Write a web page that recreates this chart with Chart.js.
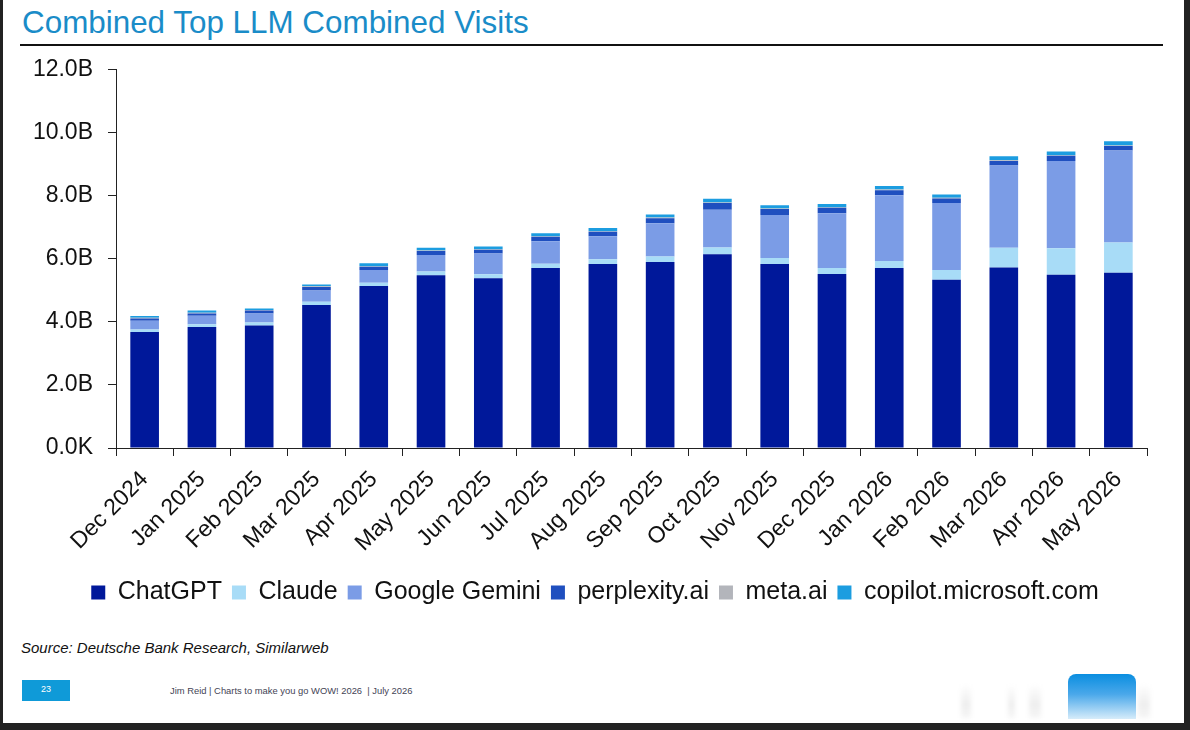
<!DOCTYPE html>
<html>
<head>
<meta charset="utf-8">
<script src="https://cdn.jsdelivr.net/npm/chart.js@4.4.1/dist/chart.umd.min.js"></script>
<style>
  html, body { margin: 0; padding: 0; background: #222; }
  body { width: 1190px; height: 730px; position: relative; overflow: hidden; font-family: "Liberation Sans", Arial, sans-serif; }
  #page { position: absolute; left: 3px; top: 0; width: 1181px; height: 723px; background: #fff; overflow: hidden; }
  #title { position: absolute; left: 19px; top: 5px; font-size: 31.4px; color: #1a8cc8; white-space: nowrap; }
  #rule { position: absolute; left: 17px; top: 44px; width: 1143px; height: 2px; background: #111; }
  #wrap { position: absolute; left: -3px; top: 41px; width: 1190px; height: 574px; }
  #source { position: absolute; left: 18px; top: 639px; font-size: 15px; font-style: italic; color: #111; }
  #pagenum { position: absolute; left: 19px; top: 680px; width: 48px; height: 21px; background: #0f9ad8; color: #fff; font-size: 9px; text-align: center; line-height: 19px; }
  #footer { position: absolute; left: 167px; top: 685px; font-size: 9.4px; color: #445; }
  #logo { position: absolute; left: 1065px; top: 674px; width: 68px; height: 45px; border-radius: 8px 8px 0 0;
          background: linear-gradient(to bottom, #0a8ee0 0%, #4aa8ea 45%, #d6ecfa 100%); }
  .ghost { position: absolute; top: 684px; height: 34px; background: linear-gradient(to bottom, #fff, #eeeeee 60%, #f6f6f6); filter: blur(2px); }
</style>
</head>
<body>
<div id="page">
  <div id="title">Combined Top LLM Combined Visits</div>
  <div id="rule"></div>
  <div id="wrap"><canvas id="visitsChart"></canvas></div>
  <div id="source">Source: Deutsche Bank Research, Similarweb</div>
  <div id="pagenum">23</div>
  <div id="footer">Jim Reid | Charts to make you go WOW! 2026 &nbsp;| July 2026</div>
  <div class="ghost" style="left:958px; width:10px"></div>
  <div class="ghost" style="left:1005px; width:7px"></div>
  <div class="ghost" style="left:1026px; width:12px"></div>
  <div class="ghost" style="left:1135px; width:12px"></div>
  <div id="logo"></div>
</div>
<script>
// Months on the x axis
const months = ['Dec 2024', 'Jan 2025', 'Feb 2025', 'Mar 2025', 'Apr 2025', 'May 2025',
    'Jun 2025', 'Jul 2025', 'Aug 2025', 'Sep 2025', 'Oct 2025', 'Nov 2025',
    'Dec 2025', 'Jan 2026', 'Feb 2026', 'Mar 2026', 'Apr 2026', 'May 2026'];

// Monthly visits, billions
const chatgpt = [3.68, 3.84, 3.89, 4.54, 5.14, 5.48, 5.39, 5.71, 5.84, 5.90, 6.15, 5.84, 5.52, 5.71, 5.34, 5.73, 5.50, 5.56];
const claude = [0.08, 0.09, 0.09, 0.10, 0.10, 0.12, 0.12, 0.14, 0.15, 0.18, 0.21, 0.19, 0.19, 0.22, 0.31, 0.62, 0.84, 0.96];
const gemini = [0.28, 0.27, 0.29, 0.36, 0.41, 0.52, 0.66, 0.71, 0.73, 1.05, 1.20, 1.36, 1.74, 2.09, 2.12, 2.61, 2.77, 2.92];
const perplexity = [0.07, 0.07, 0.09, 0.11, 0.10, 0.13, 0.12, 0.14, 0.14, 0.16, 0.21, 0.19, 0.17, 0.16, 0.15, 0.15, 0.16, 0.14];
const metaAi = [0.02, 0.02, 0.02, 0.02, 0.02, 0.02, 0.02, 0.02, 0.02, 0.02, 0.02, 0.02, 0.02, 0.02, 0.02, 0.02, 0.02, 0.02];
const copilot = [0.06, 0.07, 0.05, 0.06, 0.09, 0.08, 0.08, 0.09, 0.10, 0.10, 0.12, 0.10, 0.10, 0.11, 0.10, 0.13, 0.12, 0.13];

// Y axis ticks, billions
const yTicks = [0, 2, 4, 6, 8, 10, 12];

const colors = {
    chatgpt: '#00189a',
    claude: '#a8dcf7',
    gemini: '#7b9ce6',
    perplexity: '#1f4fbf',
    meta: '#b3b5bb',
    copilot: '#1c9de0'
};

function makeSet(label, data, color) {
    return {
        label: label,
        data: data.map(v => v * 1e9),
        backgroundColor: color,
        borderWidth: 0,
        barPercentage: 0.5,
        categoryPercentage: 1.0
    };
}

const ctx = document.getElementById('visitsChart');
new Chart(ctx, {
    type: 'bar',
    data: {
        labels: months,
        datasets: [
            makeSet('ChatGPT', chatgpt, colors.chatgpt),
            makeSet('Claude', claude, colors.claude),
            makeSet('Google Gemini', gemini, colors.gemini),
            makeSet('perplexity.ai', perplexity, colors.perplexity),
            makeSet('meta.ai', metaAi, colors.meta),
            makeSet('copilot.microsoft.com', copilot, colors.copilot)
        ]
    },
    options: {
        responsive: true,
        maintainAspectRatio: false,
        animation: false,
        layout: { padding: { left: 0, right: 0, top: 11, bottom: 0 } },
        plugins: {
            tooltip: { enabled: false },
            legend: {
                position: 'bottom',
                labels: {
                    boxWidth: 14,
                    boxHeight: 14,
                    padding: 10,
                    color: '#111',
                    font: { family: 'Liberation Sans', size: 25 }
                }
            }
        },
        scales: {
            x: {
                stacked: true,
                afterFit: function(scale) { scale.height = 122; },
                grid: { drawOnChartArea: false, drawTicks: true, tickLength: 8, color: '#222', offset: true },
                border: { display: true, color: '#222', width: 1 },
                ticks: {
                    minRotation: 45,
                    maxRotation: 45,
                    color: '#111',
                    padding: 10,
                    font: { family: 'Liberation Sans', size: 23 }
                }
            },
            y: {
                stacked: true,
                min: 0,
                max: yTicks[yTicks.length - 1] * 1e9,
                afterFit: function(scale) { scale.width = 116; },
                afterBuildTicks: function(scale) {
                    scale.ticks = yTicks.map(v => ({ value: v * 1e9 }));
                },
                grid: { drawOnChartArea: false, drawTicks: true, tickLength: 8, color: '#222' },
                border: { display: true, color: '#222', width: 1 },
                ticks: {
                    color: '#111',
                    padding: 15,
                    font: { family: 'Liberation Sans', size: 23 },
                    callback: function(value) {
                        if (value === 0) return '0.0K';
                        return (value / 1e9).toFixed(1) + 'B';
                    }
                }
            },
            // empty right margin so the legend centres on the page
            yRight: {
                position: 'right',
                afterFit: function(scale) { scale.width = 43; },
                grid: { display: false },
                border: { display: false },
                ticks: { display: false }
            }
        }
    }
});
</script>
</body>
</html>
